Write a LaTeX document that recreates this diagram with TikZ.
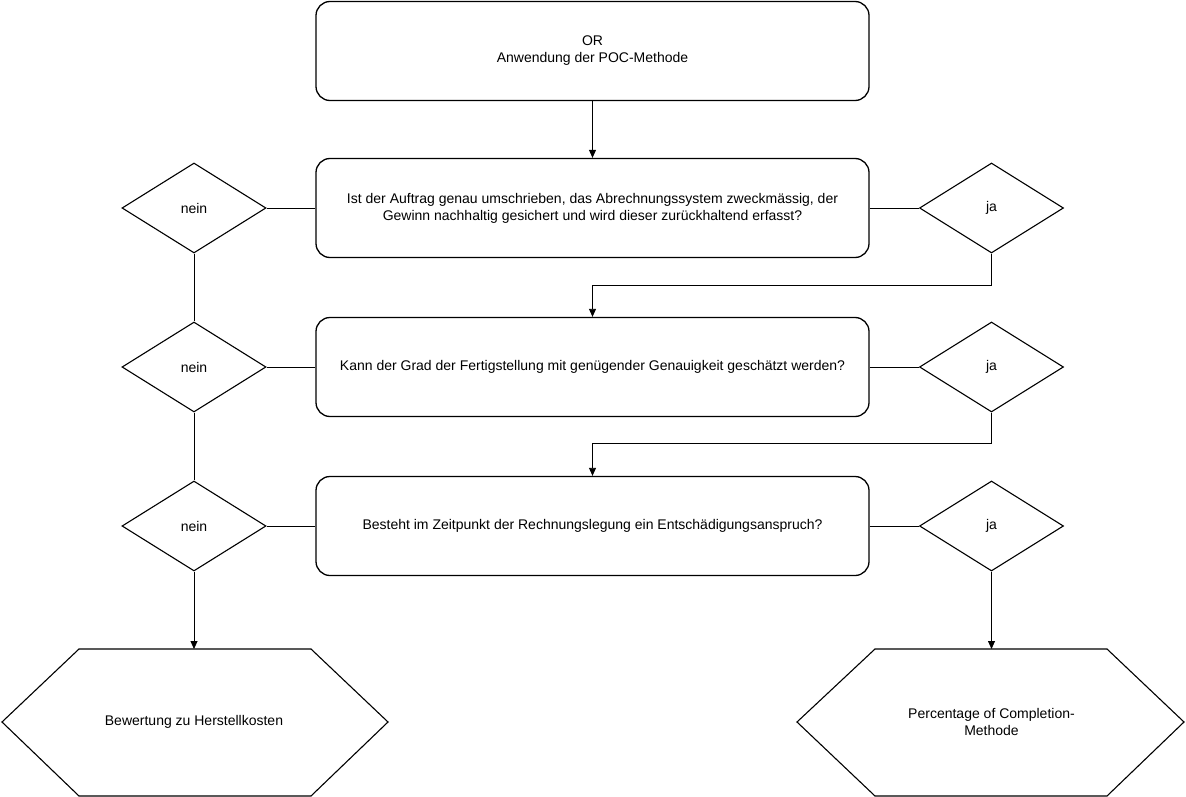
\documentclass[tikz,border=0pt]{standalone}
\usepackage{fontspec}
\setmainfont{Liberation Sans}
\usetikzlibrary{shapes.geometric,arrows.meta}
\begin{document}
\begin{tikzpicture}[x=1pt,y=-1pt,
  box/.style={draw,rounded corners=14pt,line width=1.3pt,minimum width=553pt,minimum height=99pt,align=center,font=\fontsize{14}{17}\selectfont,inner sep=0pt},
  dec/.style={draw,diamond,aspect=1.6,line width=1.1pt,minimum width=144pt,minimum height=90pt,inner sep=0pt,font=\fontsize{14}{17}\selectfont},
  hexa/.style={draw,line width=1.1pt},
  lbl/.style={align=center,font=\fontsize{14}{17}\selectfont},
  ln/.style={draw,line width=0.8pt},
  arr/.style={ln,-{Triangle[length=8pt,width=7pt]}}]
\useasboundingbox (0,0) rectangle (1186,797);
\node[box] (b1) at (592.5,51) {OR\\Anwendung der POC-Methode};
\node[box] (b2) at (592.5,208) {Ist der Auftrag genau umschrieben, das Abrechnungssystem zweckmässig, der\\Gewinn nachhaltig gesichert und wird dieser zurückhaltend erfasst?};
\node[box] (b3) at (592.5,367) {Kann der Grad der Fertigstellung mit genügender Genauigkeit geschätzt werden?};
\node[box] (b4) at (592.5,526) {Besteht im Zeitpunkt der Rechnungslegung ein Entschädigungsanspruch?};
\node[dec] (n1) at (194,208) {nein};
\node[dec] (n2) at (194,367) {nein};
\node[dec] (n3) at (194,526) {nein};
\node[dec] (j1) at (991.5,208) {ja};
\node[dec] (j2) at (991.5,367) {ja};
\node[dec] (j3) at (991.5,526) {ja};
\draw[hexa] (2,722) -- (79,649) -- (311,649) -- (388,722) -- (311,796) -- (79,796) -- cycle;
\draw[hexa] (797,722) -- (875,649) -- (1107,649) -- (1184,722) -- (1107,796) -- (875,796) -- cycle;
\coordinate (h1) at (194,649);
\coordinate (h2) at (991.5,649);
\node[lbl] (t1) at (194,722) {Bewertung zu Herstellkosten};
\node[lbl] (t2) at (991.5,722) {Percentage of Completion-\\Methode};
\draw[arr] (b1) -- (b2);
\draw[ln] (b2.west) -- (n1.east);
\draw[ln] (b2.east) -- (j1.west);
\draw[ln] (b3.west) -- (n2.east);
\draw[ln] (b3.east) -- (j2.west);
\draw[ln] (b4.west) -- (n3.east);
\draw[ln] (b4.east) -- (j3.west);
\draw[ln] (n1.south) -- (n2.north);
\draw[ln] (n2.south) -- (n3.north);
\coordinate (c1) at (991.5,285);
\coordinate (c2) at (991.5,443);
\draw[arr] (j1.south) -- (c1) -| (b3.north);
\draw[arr] (j2.south) -- (c2) -| (b4.north);
\draw[arr] (n3.south) -- (h1);
\draw[arr] (j3.south) -- (h2);
\end{tikzpicture}
\end{document}
